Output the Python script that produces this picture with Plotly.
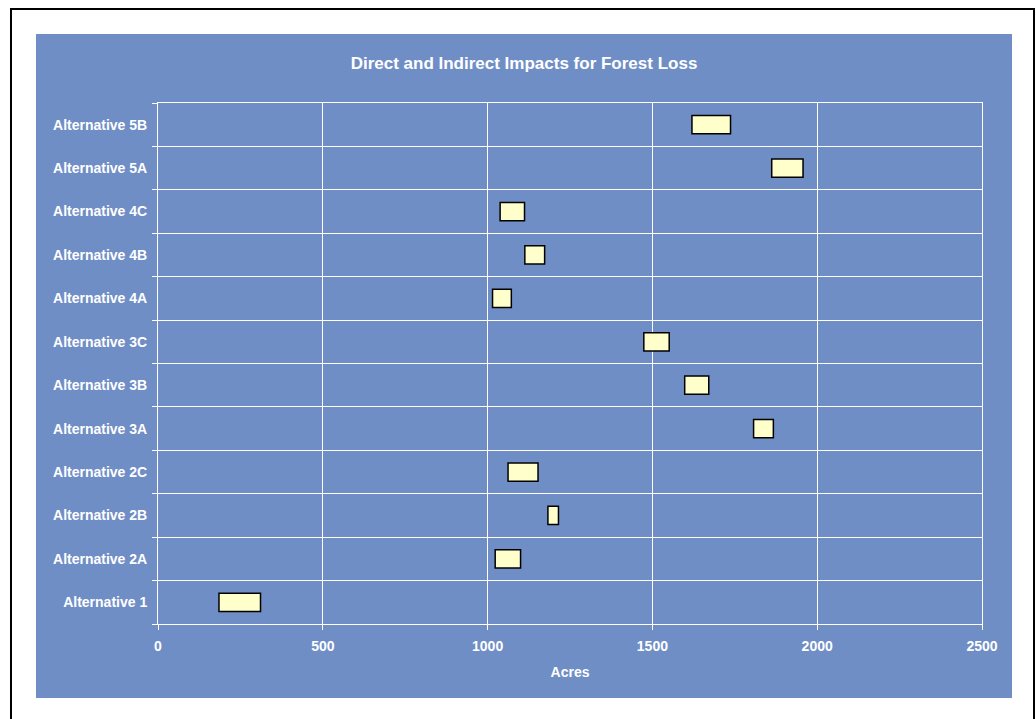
import plotly.graph_objects as go

# Range of forest loss (acres) for each alternative
alternatives = [
    "Alternative 1", "Alternative 2A", "Alternative 2B", "Alternative 2C",
    "Alternative 3A", "Alternative 3B", "Alternative 3C",
    "Alternative 4A", "Alternative 4B", "Alternative 4C",
    "Alternative 5A", "Alternative 5B",
]
low_acres = [185, 1023, 1183, 1062, 1807, 1598, 1474, 1015, 1113, 1038, 1862, 1620]
high_acres = [311, 1100, 1215, 1153, 1867, 1671, 1551, 1072, 1173, 1112, 1957, 1737]
x_ticks = [0, 500, 1000, 1500, 2000, 2500]

W, H = 1036, 719
ML, MR, MT, MB = 158, 54, 103, 95
PANEL = "#708EC6"
FONT = "Arial, Liberation Sans, sans-serif"

plot_w = W - ML - MR
plot_h = H - MT - MB


def px_x(p):
    return (p - ML) / plot_w


def px_y(p):
    return (H - MB - p) / plot_h


spans = [h - l for l, h in zip(low_acres, high_acres)]

fig = go.Figure(
    go.Bar(
        y=alternatives,
        x=spans,
        base=low_acres,
        orientation="h",
        width=0.42,
        marker=dict(color="#FFFFCC", line=dict(color="#000000", width=1.5)),
        hoverinfo="skip",
    )
)

fig.update_layout(
    width=W,
    height=H,
    autosize=False,
    margin=dict(l=ML, r=MR, t=MT, b=MB, pad=0),
    paper_bgcolor="white",
    plot_bgcolor=PANEL,
    showlegend=False,
    font=dict(family=FONT, color="white", size=14),
    title=dict(
        text="<b>Direct and Indirect Impacts for Forest Loss</b>",
        x=524 / W,
        xanchor="center",
        xref="container",
        y=1 - 63 / H,
        yanchor="middle",
        yref="container",
        font=dict(family=FONT, size=17, color="white"),
    ),
    shapes=[
        # blue chart panel
        dict(
            type="rect", xref="paper", yref="paper", layer="below",
            x0=px_x(36), x1=px_x(1012), y0=px_y(698), y1=px_y(34),
            fillcolor=PANEL, line=dict(width=0),
        ),
        # page frame
        dict(
            type="rect", xref="paper", yref="paper", layer="below",
            x0=px_x(11), x1=px_x(1034), y0=px_y(740), y1=px_y(9),
            fillcolor="rgba(0,0,0,0)", line=dict(color="black", width=2),
        ),
    ],
)

fig.update_xaxes(
    range=[0, 2500],
    tickvals=x_ticks,
    ticktext=[f"<b>{v}</b>" for v in x_ticks],
    showgrid=True,
    gridcolor="white",
    gridwidth=1,
    showline=True,
    linecolor="white",
    linewidth=1,
    mirror=True,
    ticks="outside",
    ticklen=5,
    tickcolor="white",
    tickfont=dict(family=FONT, size=14, color="white"),
    ticklabelstandoff=4,
    zeroline=False,
    title=dict(text="<b>Acres</b>", font=dict(family=FONT, size=14, color="white"), standoff=14),
)

fig.update_yaxes(
    type="category",
    categoryorder="array",
    categoryarray=alternatives,
    range=[-0.5, len(alternatives) - 0.5],
    tickson="boundaries",
    tickvals=alternatives,
    ticktext=[f"<b>{a}</b>" for a in alternatives],
    showgrid=True,
    gridcolor="white",
    gridwidth=1,
    showline=True,
    linecolor="white",
    linewidth=1,
    mirror=True,
    ticks="outside",
    ticklen=5,
    tickcolor="white",
    tickfont=dict(family=FONT, size=14, color="white"),
    ticklabelstandoff=7,
    zeroline=False,
)

fig.write_html("out.html")
